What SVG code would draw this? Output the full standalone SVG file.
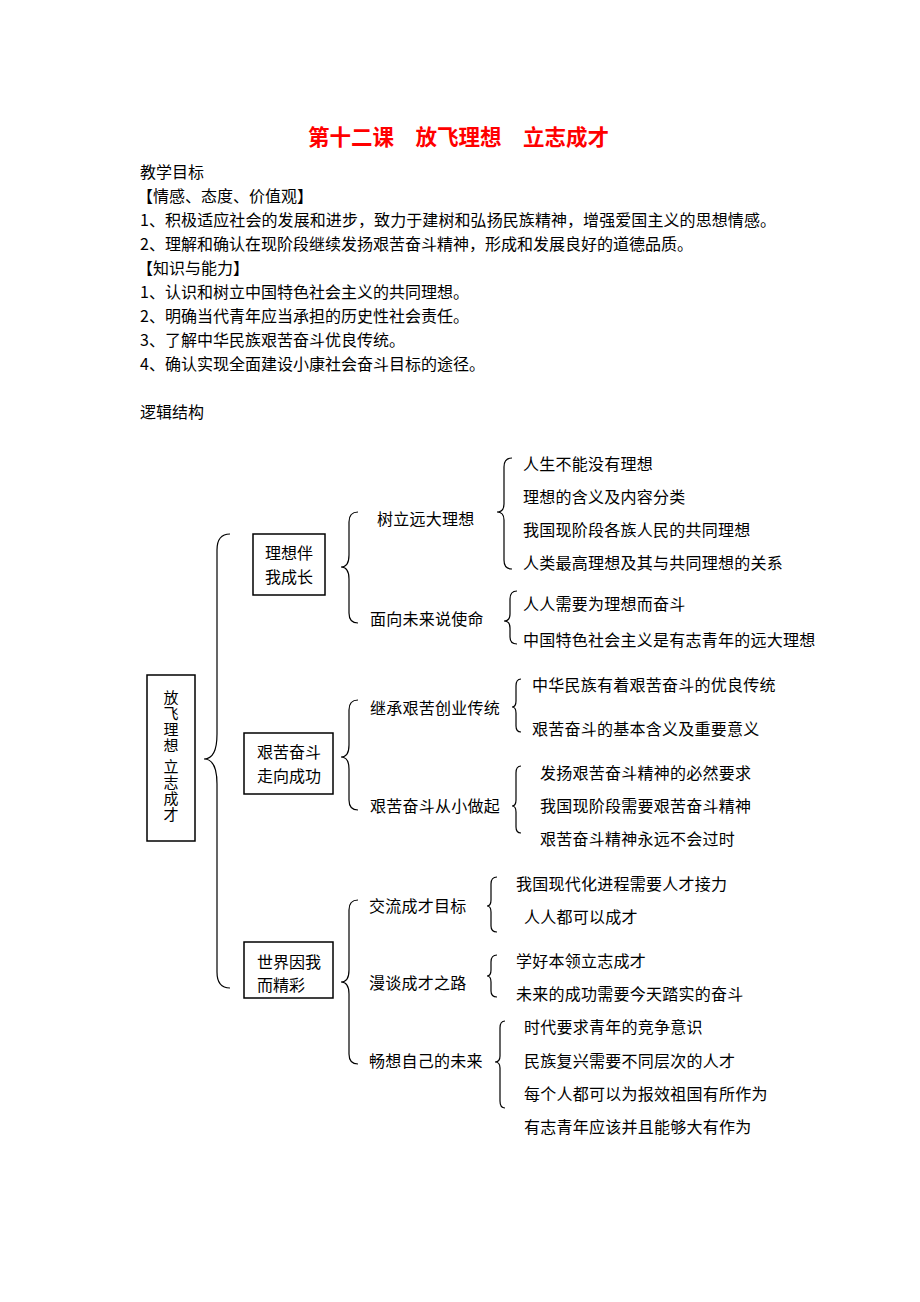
<svg xmlns="http://www.w3.org/2000/svg" width="920" height="1302" viewBox="0 0 920 1302">
<style>
text{font-family:"Noto Sans CJK SC","Noto Sans CJK JP",sans-serif;fill:#000;font-size:16px}
.t{font-size:21.5px;font-weight:bold;fill:#ff0000}
.d{letter-spacing:0.25px}
.box{fill:#fff;stroke:#000;stroke-width:1.5}
.br{fill:none;stroke:#000;stroke-width:1.2}
.v{font-size:15px;writing-mode:vertical-rl;letter-spacing:1px}
</style>
<rect width="920" height="1302" fill="#fff"/>
<g id="header">
<text class="t" x="308" y="145">第十二课　放飞理想　立志成才</text>
<text x="140" y="178">教学目标</text>
<text x="137" y="202">【情感、态度、价值观】</text>
<text x="140" y="226" style="letter-spacing:0.08px">1、积极适应社会的发展和进步，致力于建树和弘扬民族精神，增强爱国主义的思想情感。</text>
<text x="140" y="250">2、理解和确认在现阶段继续发扬艰苦奋斗精神，形成和发展良好的道德品质。</text>
<text x="137" y="274">【知识与能力】</text>
<text x="140" y="298">1、认识和树立中国特色社会主义的共同理想。</text>
<text x="140" y="322">2、明确当代青年应当承担的历史性社会责任。</text>
<text x="140" y="346">3、了解中华民族艰苦奋斗优良传统。</text>
<text x="140" y="370">4、确认实现全面建设小康社会奋斗目标的途径。</text>
<text x="140" y="418">逻辑结构</text>
</g>
<g id="connectors">
<path class="br" d="M230,534 Q217,534 217,550 L217,734 Q217,759 204,759 Q217,759 217,784 L217,972 Q217,988 230,988"/>
<path class="br" d="M358,512 Q349,512 349,522 L349,555 Q349,567 341,567 Q349,567 349,579 L349,613 Q349,623 358,623"/>
<path class="br" d="M512,458 Q504,458 504,467 L504,504 Q504,512 497,512 Q504,512 504,520 L504,560 Q504,569 512,569"/>
<path class="br" d="M517,591 Q510,591 510,599 L510,614 Q510,621 504,621 Q510,621 510,628 L510,637 Q510,644 517,644"/>
<path class="br" d="M358,700 Q349,700 349,710 L349,745 Q349,757 341,757 Q349,757 349,769 L349,800 Q349,810 358,810"/>
<path class="br" d="M521,679 Q516,679 516,686 L516,701 Q516,707 512,707 Q516,707 516,713 L516,726 Q516,732 521,732"/>
<path class="br" d="M521,766 Q516,766 516,773 L516,800 Q516,806 512,806 Q516,806 516,812 L516,827 Q516,833 521,833"/>
<path class="br" d="M358,900 Q349,900 349,910 L349,970 Q349,982 341,982 Q349,982 349,994 L349,1054 Q349,1064 358,1064"/>
<path class="br" d="M497,877 Q491,877 491,884 L491,900 Q491,906 487,906 Q491,906 491,912 L491,926 Q491,932 497,932"/>
<path class="br" d="M497,955 Q491,955 491,962 L491,970 Q491,976 487,976 Q491,976 491,982 L491,991 Q491,997 497,997"/>
<path class="br" d="M505,1021 Q500,1021 500,1028 L500,1056 Q500,1062 495,1062 Q500,1062 500,1068 L500,1101 Q500,1108 505,1108"/>
</g>
<g id="root">
<rect class="box" x="147" y="675" width="48" height="166"/>
<text class="v" x="171" y="690">放飞理想 立志成才</text>
</g>
<g id="n1">
<rect class="box" x="253" y="534" width="72" height="61"/>
<text x="265" y="559">理想伴</text>
<text x="265" y="583">我成长</text>
</g>
<g id="n2">
<rect class="box" x="244" y="733" width="89" height="61"/>
<text x="257" y="758">艰苦奋斗</text>
<text x="257" y="782">走向成功</text>
</g>
<g id="n3">
<rect class="box" x="244" y="942" width="89" height="56"/>
<text x="257" y="968">世界因我</text>
<text x="257" y="991">而精彩</text>
</g>
<g id="n1a"><text class="d" x="377" y="525">树立远大理想</text></g>
<g id="n1b"><text class="d" x="370" y="625">面向未来说使命</text></g>
<g id="n1a-items">
<text class="d" x="523" y="470">人生不能没有理想</text>
<text class="d" x="523" y="503">理想的含义及内容分类</text>
<text class="d" x="523" y="536">我国现阶段各族人民的共同理想</text>
<text class="d" x="523" y="569">人类最高理想及其与共同理想的关系</text>
</g>
<g id="n1b-items">
<text class="d" x="523" y="610">人人需要为理想而奋斗</text>
<text class="d" x="523" y="646">中国特色社会主义是有志青年的远大理想</text>
</g>
<g id="n2a"><text class="d" x="370" y="714">继承艰苦创业传统</text></g>
<g id="n2b"><text class="d" x="370" y="812">艰苦奋斗从小做起</text></g>
<g id="n2a-items">
<text class="d" x="532" y="691">中华民族有着艰苦奋斗的优良传统</text>
<text class="d" x="532" y="735">艰苦奋斗的基本含义及重要意义</text>
</g>
<g id="n2b-items">
<text class="d" x="540" y="779">发扬艰苦奋斗精神的必然要求</text>
<text class="d" x="540" y="812">我国现阶段需要艰苦奋斗精神</text>
<text class="d" x="540" y="845">艰苦奋斗精神永远不会过时</text>
</g>
<g id="n3a"><text class="d" x="369" y="912">交流成才目标</text></g>
<g id="n3b"><text class="d" x="369" y="989">漫谈成才之路</text></g>
<g id="n3c"><text class="d" x="369" y="1067">畅想自己的未来</text></g>
<g id="n3a-items">
<text class="d" x="516" y="890">我国现代化进程需要人才接力</text>
<text class="d" x="524" y="923">人人都可以成才</text>
</g>
<g id="n3b-items">
<text class="d" x="516" y="967">学好本领立志成才</text>
<text class="d" x="516" y="1000">未来的成功需要今天踏实的奋斗</text>
</g>
<g id="n3c-items">
<text class="d" x="524" y="1033">时代要求青年的竞争意识</text>
<text class="d" x="524" y="1067">民族复兴需要不同层次的人才</text>
<text class="d" x="524" y="1100">每个人都可以为报效祖国有所作为</text>
<text class="d" x="524" y="1133">有志青年应该并且能够大有作为</text>
</g>
</svg>
